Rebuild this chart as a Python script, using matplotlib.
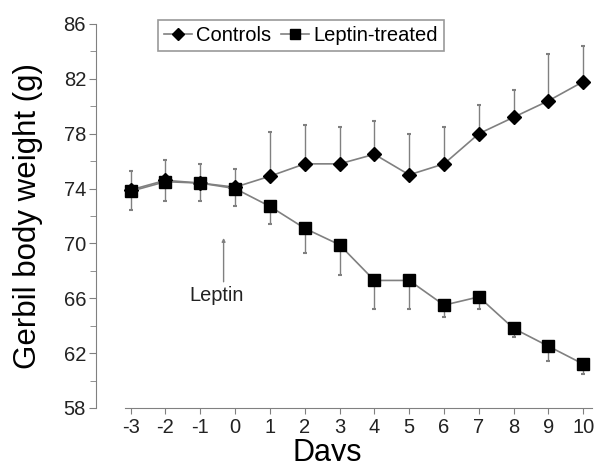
import matplotlib
matplotlib.use("Agg")
import matplotlib.pyplot as plt
from matplotlib.ticker import MultipleLocator

plt.rcParams['font.family'] = ['Liberation Sans', 'DejaVu Sans']
plt.rcParams['axes.unicode_minus'] = False

days = [-3, -2, -1, 0, 1, 2, 3, 4, 5, 6, 7, 8, 9, 10]
controls = [73.9, 74.6, 74.4, 74.1, 74.9, 75.8, 75.8, 76.5, 75.0, 75.8, 78.0, 79.2, 80.4, 81.8]
controls_upper = [75.3, 76.1, 75.8, 75.4, 78.1, 78.6, 78.5, 78.9, 78.0, 78.5, 80.1, 81.2, 83.8, 84.4]
treated = [73.8, 74.5, 74.4, 74.0, 72.7, 71.1, 69.9, 67.3, 67.3, 65.5, 66.1, 63.8, 62.5, 61.2]
treated_lower = [72.4, 73.1, 73.1, 72.7, 71.4, 69.3, 67.7, 65.2, 65.2, 64.6, 65.2, 63.2, 61.4, 60.5]
yticks = [58, 62, 66, 70, 74, 78, 82, 86]

fig = plt.figure(figsize=(5.95, 4.61), dpi=100)
ax = fig.add_axes([0.161, 0.115, 0.834, 0.833])

grey = '#808080'
c_err = [[0] * len(days), [u - v for u, v in zip(controls_upper, controls)]]
t_err = [[v - l for v, l in zip(treated, treated_lower)], [0] * len(days)]

ax.errorbar(days, controls, yerr=c_err, fmt='none', ecolor=grey, elinewidth=1, capsize=1.5, capthick=1.5)
ax.errorbar(days, treated, yerr=t_err, fmt='none', ecolor=grey, elinewidth=1, capsize=1.5, capthick=1.5)
ax.plot(days, controls, color=grey, lw=1.2, marker='D', ms=7, mfc='black', mec='black', label='Controls')
ax.plot(days, treated, color=grey, lw=1.2, marker='s', ms=9, mfc='black', mec='black', label='Leptin-treated')

ax.set_xlim(-4.0, 10.25)
ax.set_ylim(58, 86)
ax.set_xticks(days)
ax.set_xticklabels([str(d) for d in days])
ax.set_yticks(yticks)
ax.yaxis.set_minor_locator(MultipleLocator(2))

for s in ['top', 'right']:
    ax.spines[s].set_visible(False)
ax.spines['left'].set_color(grey)
ax.spines['bottom'].set_color(grey)
ax.spines['bottom'].set_bounds(-3.17, 10.25)
ax.tick_params(axis='both', which='both', colors=grey, labelcolor='#222222', direction='out')
ax.tick_params(axis='y', which='major', length=5, labelsize=14.5, pad=2)
ax.tick_params(axis='y', which='minor', length=4)
ax.tick_params(axis='x', which='major', length=4, labelsize=14.5, pad=3)

ax.set_ylabel('Gerbil body weight (g)', fontsize=22.5)
ax.yaxis.set_label_coords(-0.107, 0.5)
ax.set_xlabel('Days', fontsize=22)
ax.xaxis.set_label_coords(0.466, -0.079)

ax.annotate('', xy=(-0.33, 70.6), xytext=(-0.33, 67.0),
            arrowprops=dict(arrowstyle='-|>', color=grey, lw=1, mutation_scale=5))
ax.text(-0.54, 66.2, 'Leptin', fontsize=14.4, ha='center', va='center', color='#222222')

leg = ax.legend(loc='upper center', bbox_to_anchor=(0.413, 1.01), ncol=2, fontsize=14.5,
                frameon=True, fancybox=False, edgecolor=grey, handlelength=1.4,
                columnspacing=0.5, handletextpad=0.2, borderpad=0.3, borderaxespad=0,
                markerscale=0.85)
leg.get_frame().set_linewidth(1.2)

fig.savefig('out.png', dpi=100)
